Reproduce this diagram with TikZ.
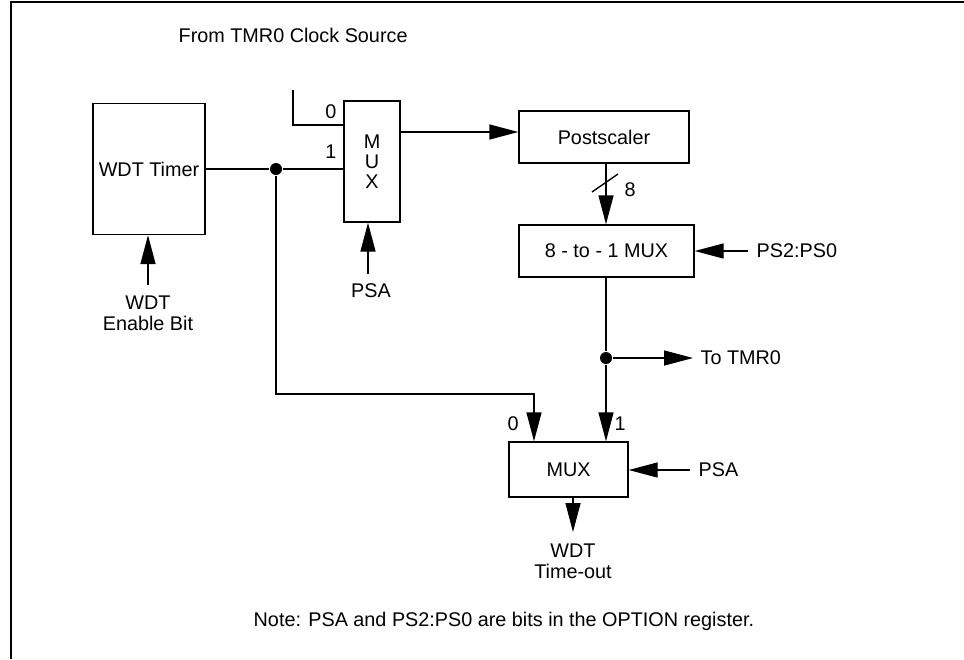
\documentclass[tikz,border=0pt]{standalone}
\usepackage{fontspec}
\setmainfont{Liberation Sans}
\usetikzlibrary{arrows.meta}
\begin{document}
\begin{tikzpicture}[x=1pt,y=-1pt,line width=1.4pt,
  font=\fontsize{19.8}{21}\selectfont,
  >={Triangle[length=29pt,width=15pt]},
  blk/.style={draw,rectangle,inner sep=0pt},
  lbl/.style={inner sep=0pt},
  dotn/.style={circle,fill,inner sep=0pt,minimum size=12pt}]
\useasboundingbox (0,0) rectangle (964,659);
% frame (only top and left edges visible)
\draw[line width=2.4pt] (11,659) -- (11,2) -- (964,2);

% blocks
\node[blk,minimum width=112pt,minimum height=131pt] (wdt) at (149,169) {WDT Timer};
\node[blk,minimum width=56pt,minimum height=121pt,align=center,font=\fontsize{19.8}{20}\selectfont] (mux1) at (372,161.5) {M\\U\\X};
\node[blk,minimum width=170pt,minimum height=52pt] (post) at (604,137) {Postscaler};
\node[blk,minimum width=175pt,minimum height=52pt] (mux8) at (606.5,251) {8 - to - 1 MUX};
\node[blk,minimum width=119pt,minimum height=55pt] (muxo) at (568.5,469.5) {MUX};

% texts
\node[lbl,anchor=west] (src) at (178,35) {From TMR0 Clock Source};
\node[lbl,align=center] (wen) at (148,313) {WDT\\Enable Bit};
\node[lbl] (psa1) at (371,291) {PSA};
\node[lbl] (l0a) at (331,112) {0};
\node[lbl] (l1a) at (331,152) {1};
\node[lbl] (l8) at (630,190) {8};
\node[lbl,anchor=west] (ps) at (756,251) {PS2:PS0};
\node[lbl,anchor=west] (tmr) at (700,358) {To TMR0};
\node[lbl] (l0b) at (513,424) {0};
\node[lbl] (l1b) at (620,424) {1};
\node[lbl,anchor=west] (psa2) at (698,470) {PSA};
\node[lbl,align=center] (wto) at (573,561) {WDT\\Time-out};
\node[lbl,anchor=west] (note) at (253,621) {Note: PSA and PS2:PS0 are bits in the OPTION register.};

% junction dots
\node[dotn] (d1) at (276,169) {};
\node[dotn] (d2) at (606,358) {};

% helper coordinates
\coordinate (in0) at (293,90);
\coordinate (m0) at (344,125);
\coordinate (mo) at (400,132);
\coordinate (psa1s) at (368,274);
\coordinate (wens) at (148,285);
\coordinate (pss) at (748,251);
\coordinate (tmre) at (693,358);
\coordinate (c0) at (534,394);
\coordinate (psa2s) at (690,470);
\coordinate (wtos) at (573,497);
\coordinate (wtoe) at (573,532);
\coordinate (sl1) at (592,192);
\coordinate (sl2) at (618,174);

% connectors
\draw (wdt.east |- d1) -- (d1) -- (d1 -| mux1.west);
\draw (in0) |- (m0);
\draw[->] (mo) -- (mo -| post.west);
\draw[->] (psa1s) -- (psa1s |- mux1.south);
\draw[->] (wens) -- (wens |- wdt.south);
\draw[->] (d2 |- post.south) -- (d2 |- mux8.north);
\draw (sl1) -- (sl2);
\draw[->] (pss) -- (pss -| mux8.east);
\draw (d2 |- mux8.south) -- (d2);
\draw[->] (d2) -- (tmre);
\draw[->] (d2) -- (d2 |- muxo.north);
\draw[->] (d1) |- (c0) -- (c0 |- muxo.north);
\draw[->] (psa2s) -- (psa2s -| muxo.east);
\draw[->] (wtos) -- (wtoe);
\end{tikzpicture}
\end{document}
